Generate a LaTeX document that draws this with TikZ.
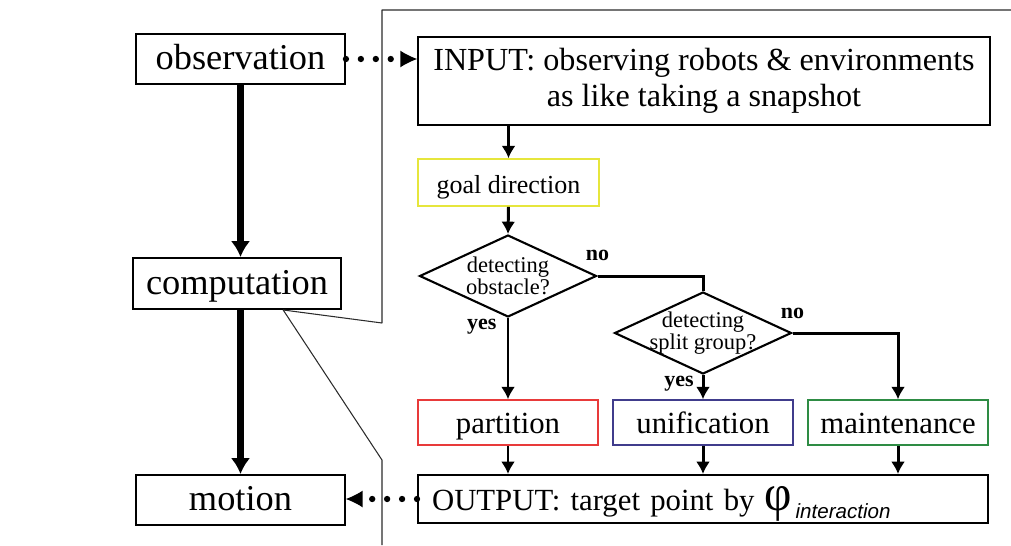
\documentclass[tikz,border=0pt]{standalone}
\usepackage{fontspec}
\setmainfont{Liberation Serif}
\newfontfamily\subfont{Liberation Sans}
\usepackage{xcolor}
\usepackage{tikz}
\usetikzlibrary{calc,arrows.meta,shapes.geometric}
\definecolor{ink}{HTML}{000000}
\definecolor{framegray}{HTML}{2B2B2B}
\definecolor{goalyellow}{HTML}{E6E63C}
\definecolor{partred}{HTML}{E83A3A}
\definecolor{uniblue}{HTML}{403C8C}
\definecolor{maintgreen}{HTML}{2E8C44}
\tikzset{
  stage/.style={draw=ink, line width=1.1pt, inner sep=0pt, minimum width=4.18cm, minimum height=1cm, text height=14pt, text depth=1.5pt, font=\fontsize{20.7}{22}\selectfont},
  flowbox/.style={draw=ink, line width=1.2pt, inner sep=0pt, font=\fontsize{17.5}{20.5}\selectfont},
  colbox/.style={draw=#1, line width=0.9pt, inner sep=0pt, minimum width=3.6cm, minimum height=0.9cm, text height=12pt, text depth=0pt, font=\fontsize{17.5}{20}\selectfont},
  choice/.style={diamond, draw=ink, line width=1.2pt, inner sep=-6pt, aspect=2.16, minimum width=3.54cm, minimum height=1.64cm, align=center, font=\fontsize{12.8}{12.5}\selectfont},
  yn/.style={inner sep=0pt, font=\fontsize{12.5}{13}\bfseries},
  bigarrow/.style={-{Latex[length=9pt,width=11pt]}, draw=ink, line width=3.6pt},
  flowarrow/.style={-{Latex[length=7pt,width=8pt]}, draw=ink, line width=1.7pt},
  flowline/.style={draw=ink, line width=1.7pt},
  dotlink/.style={-{Latex[length=9.5pt,width=9.5pt,line width=0pt]}, draw=ink, line width=3.6pt, line cap=round, dash pattern=on 0pt off 8.5pt},
  zoomline/.style={draw=framegray, line width=0.6pt, line join=bevel}
}

\begin{document}
\begin{tikzpicture}[x=0.02cm,y=-0.02cm]
  \useasboundingbox (0,0) rectangle (1011,545);

  % the three stages
  \node[stage] (obs) at (240.5,59) {observation};
  \node[stage, minimum width=4.16cm, minimum height=1.02cm] (comp) at (237,283.5) {computation};
  \node[stage] (motion) at (240.5,500) {motion};

  \draw[bigarrow] (obs.south) -- (obs.south |- comp.north);
  \draw[bigarrow] (obs.south |- comp.south) -- (motion.north);

  % zoom frame round the computation
  \coordinate (zoompt) at ($(comp.south west)!0.72!(comp.south east)$);
  \coordinate (ftopright) at (1011,10);
  \coordinate (fcorner) at (382,10);
  \coordinate (fkneeup) at (382,323);
  \coordinate (fkneedown) at (382,460);
  \coordinate (fbottom) at (382,545);
  \draw[zoomline] (ftopright) -- (fcorner) -- (fkneeup) -- (zoompt) -- (fkneedown) -- (fbottom);

  % flow inside the computation
  \node[flowbox, minimum width=11.44cm, minimum height=1.76cm, align=center, font=\fontsize{18.3}{20.5}\selectfont] (input) at (704,81)
    {INPUT: observing robots \& environments\\as like taking a snapshot};
  \node[colbox=goalyellow, minimum width=3.62cm, minimum height=0.94cm, font=\fontsize{14.8}{16}\selectfont] (goal) at (508.5,182.5) {goal direction};
  \node[choice] (obstacle) at (508,276) {detecting\\obstacle?};
  \node[choice] (split) at (703,333) {detecting\\split group?};

  \node[colbox=partred] (part) at (508,422.5) {partition};
  \node[colbox=uniblue] (unif) at (703,422.5) {unification};
  \node[colbox=maintgreen] (maint) at (898,422.5) {maintenance};

  \node[flowbox, text width=10.84cm, inner xsep=0.28cm, minimum height=0.96cm, text height=13.6pt, text depth=0pt, align=left] (output) at (703,499)
    {OUTPUT: target point by {\fontsize{20}{20}\selectfont\scalebox{1.35}[1.45]{φ}}\hspace{2pt}\raisebox{-0.55ex}{\subfont\fontsize{11.7}{12}\selectfont\itshape interaction}};

  \draw[flowarrow] (goal.north |- input.south) -- (goal.north);
  \draw[flowarrow] (goal.south) -- (obstacle.north);
  \draw[flowarrow] (obstacle.south) -- (part.north)
    node[yn, pos=0, anchor=north east, xshift=-5.7pt] (yes1) {yes};
  \draw[flowline] (obstacle.east) -| (split.north)
    node[yn, pos=0, anchor=south, yshift=8pt] (no1) {no};
  \draw[flowarrow] (split.south) -- (unif.north)
    node[yn, pos=0, anchor=north east, xshift=-4.5pt] (yes2) {yes};
  \draw[flowarrow] (split.east) -| (maint.north)
    node[yn, pos=0, anchor=south, yshift=7.4pt] (no2) {no};

  \draw[flowarrow] (part.south) -- (part.south |- output.north);
  \draw[flowarrow] (unif.south) -- (unif.south |- output.north);
  \draw[flowarrow] (maint.south) -- (maint.south |- output.north);

  % dotted hand-over between the levels
  \draw[dotlink] (obs.east) -- (obs.east -| input.west);
  \draw[dotlink] (output.west) -- (output.west -| motion.east);
\end{tikzpicture}
\end{document}
